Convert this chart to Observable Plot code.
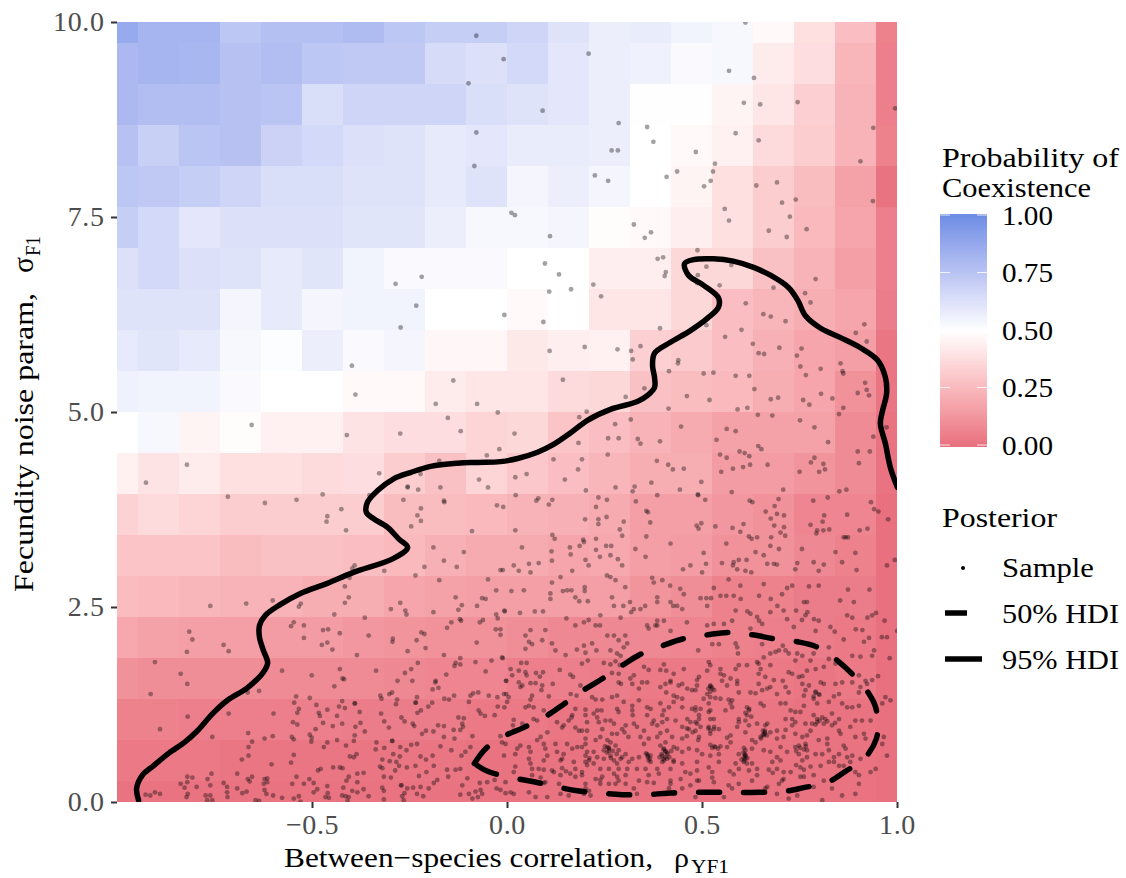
<!DOCTYPE html>
<html><head><meta charset="utf-8">
<script src="https://cdn.jsdelivr.net/npm/d3@7"></script>
<script src="https://cdn.jsdelivr.net/npm/@observablehq/plot@0.6"></script>
<style>html,body{margin:0;background:#fff}svg{display:block}text{font-family:"Liberation Serif",serif}
g[aria-label$="tick label"] text{letter-spacing:.6px}</style>
</head><body><div id="chart"></div>
<script>
const cellCols = 20;
const coexistProb = [
[.87,.82,.82,.74,.77,.77,.79,.74,.71,.71,.68,.62,.57,.58,.55,.53,.48,.39,.27,.06],
[.80,.82,.81,.76,.78,.74,.73,.73,.65,.63,.66,.60,.57,.56,.52,.53,.43,.38,.24,.05],
[.80,.78,.78,.76,.75,.64,.68,.68,.68,.64,.62,.60,.57,.505,.505,.46,.41,.33,.23,.05],
[.76,.70,.75,.76,.69,.66,.63,.62,.59,.60,.58,.58,.57,.50,.48,.45,.37,.32,.23,.06],
[.74,.73,.71,.68,.64,.64,.62,.62,.59,.62,.54,.57,.54,.50,.46,.39,.32,.26,.17,.01],
[.71,.66,.60,.63,.63,.63,.61,.61,.57,.53,.53,.54,.49,.48,.44,.39,.32,.25,.18,.05],
[.63,.66,.63,.62,.59,.61,.55,.52,.52,.52,.50,.50,.44,.44,.36,.36,.28,.23,.16,.05],
[.62,.62,.62,.54,.59,.54,.55,.55,.50,.50,.48,.50,.41,.41,.36,.27,.24,.21,.18,.04],
[.59,.61,.59,.53,.51,.57,.52,.54,.47,.47,.42,.44,.45,.33,.31,.27,.22,.18,.16,.02],
[.56,.55,.55,.52,.50,.50,.48,.48,.43,.41,.41,.37,.36,.28,.26,.25,.21,.18,.11,.02],
[.50,.53,.46,.49,.45,.45,.40,.38,.38,.35,.36,.29,.27,.23,.20,.17,.17,.17,.09,.01],
[.45,.40,.43,.39,.39,.37,.38,.32,.28,.35,.30,.27,.24,.21,.21,.15,.15,.12,.09,.01],
[.34,.37,.35,.32,.32,.32,.32,.26,.26,.25,.23,.22,.20,.16,.16,.13,.11,.07,.07,.00],
[.29,.29,.29,.26,.28,.28,.27,.25,.22,.20,.20,.18,.19,.16,.15,.11,.11,.08,.06,.00],
[.26,.25,.24,.23,.23,.21,.21,.18,.17,.16,.16,.16,.16,.12,.10,.06,.06,.04,.04,.00],
[.19,.17,.16,.16,.15,.15,.13,.12,.11,.11,.10,.08,.08,.08,.07,.06,.05,.04,.03,.00],
[.11,.10,.10,.10,.09,.09,.09,.08,.07,.07,.05,.05,.04,.03,.03,.03,.03,.02,.03,.00],
[.06,.06,.05,.05,.05,.05,.04,.04,.04,.03,.03,.02,.02,.02,.02,.02,.02,.01,.01,.00],
[.03,.03,.03,.02,.02,.02,.02,.02,.02,.01,.01,.01,.01,.01,.01,.01,.01,.01,.01,.00],
[.01,.01,.01,.01,.01,.01,.01,.01,.01,.01,.01,.01,.01,.01,.01,.01,.01,.01,.01,.00]
];
const hdi95Rho = [-.946,-.951,-.936,-.908,-.869,-.826,-.795,-.756,-.718,-.667,-.626,-.615,-.626,-.636,-.636,-.621,-.582,-.531,-.462,-.395,-.292,-.256,-.279,-.308,-.344,-.362,-.359,-.333,-.292,-.249,-.197,-.128,-.077,-.018,.026,.077,.118,.162,.205,.264,.333,.359,.377,.377,.372,.377,.418,.469,.513,.541,.541,.503,.464,.454,.477,.528,.579,.631,.674,.721,.744,.764,.803,.854,.905,.949,.969,.972,.962,.956,.969,.982,1.0];
const hdi95Sigma = [.03,.18,.35,.47,.63,.78,.92,1.14,1.31,1.47,1.67,1.79,1.95,2.12,2.27,2.40,2.54,2.68,2.81,2.95,3.13,3.27,3.38,3.53,3.64,3.72,3.85,4.00,4.15,4.23,4.31,4.35,4.36,4.37,4.41,4.49,4.59,4.74,4.90,5.04,5.14,5.22,5.32,5.45,5.60,5.76,5.90,6.05,6.21,6.35,6.47,6.63,6.76,6.91,6.96,6.97,6.94,6.86,6.76,6.60,6.44,6.24,6.08,5.96,5.83,5.67,5.45,5.24,5.03,4.86,4.60,4.29,4.04];
const hdi50Rho = [-.085,-.056,-.005,.041,.103,.144,.195,.244,.295,.341,.397,.451,.513,.567,.628,.682,.744,.795,.846,.887,.926,.944,.949,.946,.918,.867,.821,.759,.705,.644,.585,.528,.469,.41,.354,.295,.238,.179,.118,.064,.008,-.051,-.085];
const hdi50Sigma = [.50,.69,.86,.96,1.12,1.26,1.44,1.59,1.76,1.90,2.01,2.10,2.15,2.18,2.15,2.10,2.06,1.99,1.82,1.63,1.40,1.22,1.01,.82,.58,.40,.26,.19,.14,.13,.13,.13,.13,.12,.10,.10,.12,.15,.21,.27,.32,.40,.50];
const sampleUpper = [-.08,9.83,-.01,9.53,-.10,9.22,-.08,8.59,-.085,8.16,-.22,6.74,.208,9.60,.568,9.38,.632,9.29,.61,10,.606,8.97,.648,8.95,.744,8.98,.994,8.90,.09,8.87,.285,8.71,.358,8.66,.374,8.47,.585,8.58,.644,8.49,.938,8.65,.267,8.36,.283,8.36,.483,8.34,.905,8.22,.532,8.19,.527,8.09,.435,8.09,.224,8.04,.408,8.02,.258,7.97,.521,7.97,.504,7.90,.638,7.91,.691,7.95,.704,7.69,.739,7.73,.937,7.71,.557,7.61,.01,7.56,.019,7.53,.568,7.46,.724,7.51,.767,7.35,.67,7.33,.716,7.25,.324,7.41,.368,7.31,.352,7.24,.109,7.26,.487,7.08,.399,6.99,.385,6.97,.096,6.91,.51,6.87,.574,6.89,.406,6.80,.403,6.75,.488,6.76,.132,6.77,.79,6.71,-.287,6.65,-.234,6.37,-.274,6.09,-.008,6.25,-.399,5.60,-.39,5.23,-.139,5.41,-.184,5.11,-.078,5.11,-.025,5.00,-.153,4.93,-.656,4.84,-.12,4.76,-.412,4.71,-.275,4.73,-.021,4.53,-.053,4.45,-.175,4.38,-.822,4.33,-.329,4.22,-.223,4.21,-.927,4.10,-.073,4.14,-.05,4.04,-.256,4.05,-.256,4.04,-.229,4.01,-.172,4.04,-.474,3.95,-.354,3.94,-.717,3.92,-.622,3.84,-.541,3.88,-.267,3.88,-.163,3.87,-.162,3.85,-.426,3.76,-.222,3.77,-.231,3.68,-.027,3.81,-.011,3.79,-.462,3.67,-.464,3.60,-.222,3.61,-.247,3.54,-.414,3.49,-.091,3.48];
const sampleMiddle = [.22,6.64,.486,6.66,.544,6.63,.107,6.55,.163,6.58,.24,6.49,.682,6.60,.763,6.53,.777,6.41,.611,6.40,.092,6.16,.656,6.26,.675,6.23,.713,6.17,.915,6.13,.391,6.08,.51,6.12,.60,6.06,.893,6.02,.921,5.91,.558,5.97,.629,5.88,.697,5.83,.754,5.82,.108,5.79,.198,5.84,.282,5.81,.317,5.79,.341,5.85,.644,5.76,.658,5.75,.742,5.73,.321,5.68,.438,5.67,.437,5.63,.854,5.63,.751,5.59,.803,5.56,.414,5.53,.859,5.53,.861,5.50,.503,5.50,.528,5.51,.765,5.48,.585,5.47,.62,5.47,.142,5.42,.917,5.38,.351,5.31,.633,5.30,.921,5.29,.898,5.25,.927,5.22,.804,5.24,.46,5.21,.303,5.20,.694,5.19,.675,5.17,.833,5.18,.758,5.16,.774,5.10,.518,5.16,.413,5.05,.59,5.04,.615,5.06,.861,5.06,.85,4.98,.203,5.01,.184,4.94,.642,4.97,.679,4.96,.316,4.91,.75,4.90,.276,4.85,.445,4.82,.787,4.81,.562,4.79,.585,4.76,.018,4.73,.972,4.81,.938,4.69,.258,4.67,.285,4.67,.334,4.66,.341,4.60,.536,4.65,.391,4.63,.182,4.61,.822,4.62,.643,4.57,.651,4.53,.898,4.50,.929,4.50,.595,4.50,.608,4.48,.62,4.44,.545,4.46,.562,4.42,.257,4.46,.787,4.42,.118,4.40,.191,4.40,.383,4.38,.778,4.36,.81,4.34,.814,4.27,.799,4.24,.749,4.24,.901,4.35,.667,4.33,.622,4.33,.604,4.30,.578,4.28,.548,4.24,.412,4.33,.424,4.27,.452,4.28,.181,4.27,.147,4.14,.049,4.21,.02,4.17,.497,4.11,.369,4.10,.326,4.05,.321,3.99,.277,4.04,.442,4.01,.488,3.95,.489,3.94,.201,4.00,.707,4.01,.851,3.99,.869,4.01,.575,3.98,.021,3.94,.384,3.94,.233,3.91,.255,3.88,.079,3.90,.074,3.87,.115,3.88,.106,3.82,.329,3.86,.507,3.88,.695,3.89,.621,3.87,.628,3.85,.784,3.87,.821,3.91,.932,3.85,.94,3.76,.951,3.73,.227,3.79,.685,3.80,.662,3.73,.691,3.70,.709,3.68,.675,3.64,.356,3.74,.36,3.72,.254,3.66,.233,3.63,.233,3.57,.199,3.63,.871,3.69,.812,3.68,.808,3.60,.366,3.59,.298,3.60,.976,3.63,.605,3.57,.577,3.52,.597,3.47,.485,3.55,.497,3.58,.49,3.51,.533,3.54,.684,3.55,.709,3.53,.70,3.46,.712,3.42,.777,3.56,.794,3.49,.792,3.45,.81,3.49,.825,3.50,.903,3.49,.923,3.51,.862,3.40,.873,3.40,.288,3.50,.294,3.42,.02,3.49,.115,3.43,.356,3.41,.619,3.41,.64,3.40,.626,3.38,.676,3.40,.194,3.37,.227,3.38,.121,3.38];
const sampleLeft = [-.19,3.27,-.112,3.21,-.163,3.10,-.13,3.02,-.213,3.02,-.012,2.98,-.316,2.97,-.392,3.04,-.398,3.00,-.236,2.91,-.405,2.88,-.175,2.85,-.05,2.86,-.417,2.77,-.029,2.72,-.407,2.63,-.417,2.56,-.133,2.63,-.065,2.62,-.056,2.61,-.602,2.59,-.67,2.55,-.762,2.52,-.53,2.55,-.535,2.51,-.275,2.56,-.262,2.46,-.259,2.41,-.299,2.48,-.117,2.53,-.126,2.47,-.078,2.52,-.19,2.44,-.029,2.41,-.025,2.36,-.007,2.45,-.444,2.41,-.366,2.37,-.122,2.35,-.119,2.33,-.144,2.31,-.063,2.34,-.071,2.31,-.548,2.31,-.555,2.26,-.522,2.27,-.473,2.21,-.46,2.22,-.43,2.17,-.155,2.24,-.03,2.22,-.018,2.22,-.018,2.15,-.816,2.19,-.808,2.09,-.356,2.14,-.221,2.18,-.213,2.16,-.522,2.11,-.294,2.10,-.295,2.06,-.233,2.08,-.462,2.05,-.476,2.02,-.079,2.05,-.728,2.02,-.715,1.94,-.449,1.96,-.21,1.98,-.822,1.93,-.256,1.94,-.386,1.89,-.163,1.89,-.121,1.85,-.133,1.79,-.121,1.77,-.136,1.75,-.082,1.80,-.904,1.80,-.23,1.79,-.041,1.82,-.012,1.85,-.578,1.69,-.247,1.71,-.263,1.66,-.282,1.56,-.244,1.56,-.337,1.69,-.43,1.71,-.423,1.59,-.419,1.58,-.502,1.63,-.838,1.65,-.157,1.64,-.821,1.52,-.056,1.68,-.004,1.56,-.184,1.56,-.185,1.54,-.444,1.49,-.177,1.47,-.192,1.45,-.666,1.41,-.637,1.43,-.915,1.39,-.296,1.41,-.303,1.39,-.326,1.37,-.323,1.33,-.542,1.36,-.507,1.34,-.424,1.30,-.432,1.23,-.392,1.27,-.391,1.27,-.283,1.32,-.286,1.26,-.236,1.28,-.235,1.28,-.232,1.35,-.162,1.33,-.15,1.32,-.137,1.37,-.095,1.37,-.088,1.40,-.075,1.41,-.099,1.29,-.026,1.35,-.025,1.23,-.048,1.37,-.193,1.28,-.203,1.23,-.547,1.28,-.49,1.25,-.535,1.20,-.539,1.15,-.462,1.19,-.484,1.15,-.481,1.11,-.417,1.21,-.437,1.11,-.379,1.16,-.324,1.14,-.6,1.14,-.82,1.10,-.715,1.14,-.222,1.18,-.231,1.15,-.272,1.09,-.264,1.04,-.316,1.04,-.304,.96,-.243,1.01,-.239,.98,-.074,1.18,-.069,1.14,-.058,1.11,-.033,1.12,-.112,1.08,-.126,1.09,-.116,1.01,-.138,.93,-.121,.93,-.114,.97,-.178,.99,-.163,.98,-.19,.91,-.55,1.03,-.539,1.00,-.473,1.02,-.448,.98,-.424,1.01,-.377,1.02,-.492,.94,-.366,.91,-.39,.97,-.392,.86,-.219,.88,-.209,.92,-.891,.94,-.665,.89,-.757,.84,-.507,.87,-.502,.83,-.503,.78,-.623,.82,-.602,.85,-.553,.84,-.548,.81,-.437,.80,-.394,.79,-.163,.84,-.136,.82,-.09,.85,-.018,.85,-.295,.79,-.296,.79,-.336,.77,-.655,.78,-.664,.71,-.462,.77,-.471,.71,-.414,.73,-.247,.74,-.232,.75,-.275,.71,-.316,.70,-.172,.72,-.144,.67,-.095,.71,-.108,.65,-.118,.60,-.338,.68,-.293,.62,-.259,.67,-.276,.59,-.302,.53,-.285,.52,-.387,.62,-.394,.58,-.404,.59,-.192,.60,-.321,.55,-.223,.59,-.209,.55,-.681,.55,-.664,.60,-.555,.51,-.548,.61,-.605,.49,-.447,.45,-.43,.45,-.423,.44,-.486,.41,-.479,.43,-.327,.46,-.321,.44,-.258,.45,-.236,.47,-.278,.47,-.288,.41,-.189,.47,-.155,.42,-.133,.42,-.121,.43,-.693,.37,-.759,.37,-.541,.33,-.508,.30,-.369,.38,-.385,.37,-.407,.33,-.413,.28,-.317,.33,-.299,.32,-.208,.39,-.227,.34,-.152,.33,-.18,.29,-.189,.25,-.103,.31,-.071,.25,-.052,.26,-.033,.29,-.821,.33,-.808,.32,-.821,.26,-.828,.19,-.838,.24,-.769,.30,-.728,.25,-.719,.20,-.719,.13,-.718,.07,-.797,.20,-.762,.22,-.82,.11,-.823,.07,-.928,.10,-.916,.09,-.904,.13,-.891,.11,-.774,.09,-.762,.09,-.77,.03,-.757,.03,-.693,.18,-.68,.12,-.669,.14,-.666,.30,-.655,.33,-.661,.27,-.646,.03,-.637,.02,-.623,.30,-.616,.31,-.625,.24,-.616,.26,-.623,.16,-.618,.11,-.601,.09,-.578,.06,-.548,.05,-.535,.08,-.531,.01,-.522,.24,-.497,.25,-.552,.24,-.488,.17,-.497,.13,-.462,.21,-.461,.12,-.467,.07,-.458,.06,-.415,.08,-.407,.07,-.41,.02,-.424,.09,-.421,.19,-.385,.26,-.369,.17,-.385,.13,-.398,.15,-.356,.08,-.317,.15,-.321,.19,-.317,.04,-.272,.22,-.273,.22,-.257,.18,-.264,.12,-.27,.08,-.266,.03,-.242,.19,-.223,.20,-.202,.18,-.232,.11,-.216,.08,-.116,.22,-.099,.11,-.121,.10,-.082,.14,-.069,.16,-.076,.07,-.09,.05,-.065,.11,-.028,.18,-.018,.16,-.005,.12];
const sampleBand = [.037,3.27,.113,3.22,.16,3.27,.185,3.29,.196,3.34,.227,3.24,.253,3.29,.266,3.29,.328,3.25,.418,3.32,.561,3.32,.674,3.29,.636,3.21,.657,3.17,.696,3.25,.755,3.25,.867,3.40,.892,3.20,.841,3.21,.973,3.04,.993,3.11,.114,3.10,.162,3.18,.2,3.11,.237,3.15,.264,3.17,.283,3.12,.294,3.04,.055,3.06,.08,3.07,.016,3.04,.029,2.97,.059,2.95,-.018,2.98,.208,3.04,.166,2.97,.354,3.15,.503,3.20,.55,3.07,.58,3.08,.593,3.11,.613,3.11,.578,3.04,.589,2.99,.61,2.97,.625,2.95,.683,3.06,.666,3.06,.691,3.05,.743,3.07,.785,3.08,.811,3.05,.738,2.99,.798,2.97,.858,3.08,.895,2.98,.45,2.99,.469,3.04,.499,2.95,.509,3.06,.136,2.89,.114,2.82,.255,2.91,.264,2.89,.277,2.85,.371,2.88,.397,2.85,.417,2.78,.375,2.82,.443,2.74,.452,2.67,.657,2.80,.567,2.86,.529,2.75,.597,2.78,.73,2.78,.717,2.75,.704,2.67,.773,2.77,.798,2.78,.873,2.73,.928,2.73,.042,2.72,.01,2.71,.142,2.71,.153,2.72,.164,2.72,.198,2.76,.198,2.71,.302,2.76,.268,2.63,.11,2.68,.11,2.61,.174,2.63,.184,2.58,.206,2.58,.273,2.52,.297,2.52,.314,2.57,.384,2.63,.384,2.57,.418,2.57,.495,2.62,.51,2.62,.522,2.62,.546,2.65,.561,2.65,.58,2.65,.598,2.61,.645,2.65,.675,2.61,.76,2.57,.768,2.57,.853,2.59,.888,2.57,.353,2.52,.341,2.48,.324,2.48,.317,2.44,.425,2.52,.435,2.52,.448,2.48,.512,2.52,.585,2.46,.615,2.45,.623,2.42,.64,2.38,.645,2.33,.674,2.44,.708,2.46,.692,2.52,.74,2.46,.764,2.40,.755,2.34,.769,2.44,.786,2.35,.798,2.33,.871,2.40,.884,2.37,.923,2.37,.935,2.40,.945,2.43,-.008,2.46,.032,2.43,.091,2.45,.07,2.45,.151,2.36,.196,2.31,.208,2.34,.238,2.40,.226,2.27,.237,2.27,.29,2.37,.384,2.33,.401,2.33,.384,2.27,.358,2.27,.362,2.23,.379,2.27,.418,2.20,.46,2.31,.512,2.27,.529,2.29,.555,2.29,.576,2.33,.623,2.23,.653,2.29,.717,2.35,.734,2.25,.79,2.20,.828,2.25,.839,2.19,.893,2.22,.91,2.21,.967,2.33,.999,2.20,.059,2.21,.046,2.14,.055,2.06,.063,2.03,.089,2.08,.097,2.21,.174,2.27,.256,2.14,.217,2.04,.196,2.01,.178,1.96,.2,1.92,.114,2.04,.046,1.97,.123,1.95,.149,1.89,.273,2.14,.302,2.14,.285,2.08,.307,2.04,.298,1.99,.228,1.95,.264,1.95,.281,1.91,.29,1.88,.862,2.09,.927,2.11,.973,2.12,.96,2.12,.914,2.06,.824,1.99,.94,1.95,.98,1.85];
const sampleCoreLeft = [.035,1.79,.049,1.79,-.014,1.86,.008,1.71,.029,1.69,.046,1.67,.012,1.63,.049,1.63,.073,1.66,.091,1.67,.083,1.615,.134,1.70,.161,1.64,.168,1.61,.206,1.82,.191,1.78,.247,1.79,.264,1.77,.277,1.81,.288,1.76,.268,1.66,.285,1.65,.324,1.63,.35,1.74,.362,1.70,.401,1.77,.407,1.69,.392,1.70,.426,1.65,.452,1.71,.491,1.61,.418,1.56,.315,1.59,
-.003,1.56,.029,1.54,.033,1.48,.038,1.50,.059,1.53,.072,1.53,.089,1.50,.087,1.44,.116,1.52,.106,1.36,.187,1.50,.162,1.39,.177,1.37,.285,1.54,.291,1.52,.32,1.52,.345,1.54,.337,1.46,.358,1.54,.392,1.48,.405,1.52,.407,1.41,.418,1.54,.439,1.50,.448,1.52,.461,1.46,.473,1.44,.486,1.50,.426,1.37,-.009,1.39,-.003,1.39,.003,1.35,.063,1.37,.059,1.32,.243,1.32,.226,1.32,.217,1.35,.268,1.35,.298,1.29,.337,1.31,.281,1.37,.448,1.33,.435,1.35,
-.001,1.29,-.008,1.22,.046,1.22,.055,1.24,.067,1.22,.093,1.18,.166,1.12,.174,1.20,.2,1.19,.2,1.12,.23,1.18,.241,1.18,.221,1.14,.23,1.09,.281,1.20,.285,1.16,.32,1.24,.32,1.18,.321,1.12,.358,1.22,.367,1.20,.358,1.12,.392,1.27,.401,1.18,.397,1.12,.414,1.22,.426,1.29,.448,1.22,.461,1.07,.473,1.20,.482,1.18,.491,1.12,.375,1.05,.067,1.07,.016,1.06,.076,1.05,.127,1.03,.157,1.05,
.014,.99,.038,1.01,.144,.99,.14,.96,.164,1.09,.204,1.03,.183,.92,.191,.92,.174,.96,.204,.92,.234,1.03,.251,1.05,.264,1.05,.243,.94,.273,1.01,.303,.99,.294,.94,.268,.88,.324,1.01,.332,.97,.35,.92,.371,1.01,.384,.99,.397,1.03,.409,1.07,.431,1.05,.448,.97,.465,.94,.469,1.03,.486,1.01,.392,.89,.409,.92,.422,.84,.102,.90,.085,.84,.076,.80,.2,.82,.226,.80,.256,.80,.238,.84,.281,.88,.341,.84,.362,.82,.384,.84,.482,.92,.448,.82,.016,.92,-.014,.77,
-.005,.75,.033,.73,.025,.69,.055,.71,.059,.65,.093,.75,.102,.60,.097,.69,.127,.65,.123,.75,.144,.62,.153,.75,.166,.69,.179,.71,.191,.71,.2,.75,.204,.65,.14,.56,.221,.65,.23,.58,.247,.67,.256,.71,.264,.77,.277,.73,.26,.69,.264,.60,.247,.56,.285,.67,.303,.62,.294,.58,.32,.56,.337,.58,.35,.75,.358,.62,.367,.60,.362,.54,.392,.73,.405,.77,.401,.69,.405,.65,.397,.60,.409,.56,.426,.71,.435,.69,.426,.54,.448,.65,.465,.69,.486,.67,-.009,.60,.02,.62,.055,.56,.273,.54,.29,.56,.405,.66,.41,.62,.36,.58,.26,.66,.405,.58,
.02,.46,.016,.39,.059,.50,.063,.43,.093,.54,.08,.43,.093,.42,.114,.41,.119,.39,.136,.54,.17,.52,.174,.43,.2,.52,.209,.54,.204,.48,.191,.39,.191,.35,.221,.50,.238,.43,.243,.33,.26,.43,.281,.50,.285,.43,.273,.37,.311,.52,.307,.43,.303,.35,.332,.43,.354,.43,.367,.52,.384,.43,.401,.54,.397,.52,.418,.43,.426,.52,.448,.50,.456,.39,.486,.52,.063,.35,.085,.32,.136,.35,.161,.37,.174,.33,.226,.30,.281,.33,.285,.28,.337,.28,.362,.35,.388,.37,.418,.28,.444,.30,.469,.37,
-.005,.26,.093,.25,.097,.26,.016,.11,.008,.13,.072,.07,.055,.13,.132,.24,.2,.24,.2,.18,.209,.15,.213,.09,.238,.24,.238,.29,.26,.24,.277,.24,.303,.24,.324,.18,.332,.11,.358,.26,.375,.25,.418,.24,.414,.18,.448,.18,.469,.22,.486,.28,.196,.11,.136,.11,.426,.11,.482,.07,.102,.07,.157,.09];
const sampleCoreRight = [.489,1.95,.525,2.03,.542,2.03,.585,2.04,.589,1.99,.591,1.91,.653,2.03,.657,1.86,.674,1.91,.687,1.93,.696,1.95,.706,2.01,.713,1.95,.721,1.91,.743,1.91,.756,1.88,.785,1.91,.824,1.84,.884,1.88,.905,1.87,.935,1.88,
.516,1.80,.52,1.76,.486,1.57,.512,1.69,.546,1.71,.546,1.65,.555,1.63,.572,1.59,.593,1.76,.585,1.71,.614,1.76,.589,1.56,.64,1.80,.644,1.78,.649,1.71,.674,1.76,.644,1.65,.661,1.61,.683,1.57,.721,1.67,.73,1.65,.747,1.61,.756,1.62,.768,1.69,.777,1.82,.811,1.74,.841,1.78,.79,1.71,.901,1.63,.918,1.56,.935,1.57,.95,1.62,.55,1.56,.738,1.82,
.52,1.50,.525,1.46,.523,1.48,.482,1.44,.512,1.39,.52,1.35,.503,1.33,.533,1.34,.546,1.33,.567,1.32,.576,1.31,.563,1.50,.589,1.52,.593,1.41,.623,1.41,.636,1.40,.644,1.52,.653,1.44,.666,1.46,.674,1.48,.691,1.39,.706,1.56,.713,1.48,.721,1.41,.756,1.52,.764,1.44,.773,1.50,.76,1.37,.79,1.41,.798,1.39,.803,1.54,.811,1.52,.841,1.52,.858,1.54,.837,1.36,.85,1.39,.884,1.54,.905,1.48,.901,1.41,.922,1.52,.969,1.35,.982,1.31,.785,1.33,
.516,1.27,.52,1.18,.482,1.22,.495,1.20,.516,1.16,.572,1.27,.576,1.22,.559,1.18,.593,1.07,.614,1.22,.619,1.18,.649,1.27,.657,1.24,.70,1.27,.713,1.27,.76,1.24,.794,1.27,.824,1.29,.832,1.14,.858,1.27,.884,1.22,.85,1.07,.871,1.22,.901,1.24,.738,1.16,.751,1.16,.726,1.18,.713,1.07,.73,1.07,.807,1.09,.785,1.12,.794,1.07,.815,1.07,.52,1.07,.529,1.07,.614,1.12,.61,1.05,.666,1.01,.909,1.05,.931,1.05,.961,1.27,
.491,1.07,.482,1.03,.495,.97,.516,.97,.529,.94,.542,.94,.52,.88,.593,1.03,.589,.97,.572,.86,.563,.83,.619,.99,.61,.90,.64,1.01,.661,.99,.66,.92,.657,.86,.649,.84,.674,.90,.691,.92,.713,.93,.708,.84,.73,.99,.738,1.03,.764,1.01,.781,1.01,.794,1.03,.811,1.01,.832,.99,.85,.92,.854,.88,.892,1.05,.879,.97,.892,.84,.914,.88,.738,.88,.756,.84,.768,.86,.798,.80,.82,.82,.918,.82,.965,.84,.491,.84,.627,.80,.691,.82,.777,.92,.66,.88,.655,.87,
.489,.80,.52,.74,.533,.71,.546,.72,.499,.62,.572,.77,.563,.71,.606,.70,.61,.67,.593,.62,.636,.77,.627,.69,.657,.67,.674,.65,.691,.58,.70,.71,.717,.65,.738,.71,.747,.73,.764,.75,.768,.67,.768,.58,.747,.62,.756,.54,.79,.62,.82,.75,.824,.67,.862,.73,.867,.69,.871,.58,.884,.60,.807,.62,.606,.58,.61,.56,.542,.62,.52,.60,.70,.54,.905,.56,.961,.75,.973,.60,.837,.58,.85,.62,.609,.62,.61,.60,.607,.54,
.486,.41,.525,.39,.516,.45,.542,.52,.585,.50,.606,.52,.614,.50,.627,.50,.593,.43,.619,.41,.64,.43,.64,.35,.679,.52,.691,.43,.708,.39,.726,.39,.751,.45,.777,.46,.803,.47,.824,.52,.837,.52,.85,.47,.862,.47,.879,.52,.892,.39,.901,.35,.944,.43,.525,.32,.708,.30,.751,.33,.76,.33,.785,.35,.811,.28,.931,.39,
.567,.22,.576,.18,.491,.28,.529,.26,.593,.24,.627,.28,.666,.20,.661,.18,.696,.24,.704,.28,.785,.20,.832,.18,.901,.24,.858,.09,.892,.11,.555,.07,.691,.11,.721,.05,.743,.09,.807,.03];
const sampleDarkSpots = [.40,.68,.41,.64,.395,.62,.415,.58,.40,.56,.42,.66,.39,.58,.36,.60,.365,.56,.355,.63,.26,.70,.27,.66,.255,.64,.25,.72,.28,.62,.265,.57,.52,1.49,.515,1.46,.53,1.44,.52,1.42,.61,.60,.605,.64,.615,.57,.60,.55,.66,.90,.665,.86,.655,.92,.65,.82,.53,.72,.54,.69,.525,.70,.75,.70,.76,.68,.74,.66,.765,.72,.79,1.42,.80,1.38,.785,1.36,.515,.95,.53,.97,.52,.92,.62,1.20,.61,1.15,.625,1.10,.80,1.05,.82,1.04,.79,1.00,.84,1.02,.46,.95,.475,.90,.46,.85,.30,.90,.31,.84,.20,.60,.21,.57,.14,.44,.15,.40,.57,.40,.58,.36,.67,.42,.68,.38,.74,.48,.76,.42];

const cellStep = 2 / (cellCols - 1), rowStep = 10 / (cellCols - 1);
const cells = coexistProb.flatMap((row, i) => row.map((p, j) => {
  const x = -1 + j * cellStep, y = 10 - i * rowStep;
  return {x1: x - cellStep / 2, x2: x + cellStep / 2, y1: y - rowStep / 2, y2: y + rowStep / 2, p};
}));
const flat = [...sampleUpper, ...sampleMiddle, ...sampleLeft, ...sampleBand, ...sampleCoreLeft, ...sampleCoreRight, ...sampleDarkSpots];
const samples = d3.range(0, flat.length, 2).map(i => ({x: flat[i], y: flat[i + 1]}));
const hdi95 = hdi95Rho.map((x, i) => ({x, y: hdi95Sigma[i]}));
const hdi50 = hdi50Rho.map((x, i) => ({x, y: hdi50Sigma[i]}));

const plot = Plot.plot({
  width: 1126, height: 878,
  marginLeft: 117, marginRight: 229, marginTop: 22, marginBottom: 76,
  style: {background: "#fff", fontFamily: '"Liberation Serif", serif'},
  x: {domain: [-1, 1], label: null},
  y: {domain: [0, 10], label: null},
  color: {type: "linear", domain: [0, .5, 1], range: ["#e8707f", "#ffffff", "#6e8ee6"], interpolate: "lab"},
  marks: [
    Plot.rect(cells, {x1: "x1", x2: "x2", y1: "y1", y2: "y2", fill: "p", inset: 0, clip: true, shapeRendering: "crispEdges"}),
    Plot.dot(samples, {x: "x", y: "y", r: 2.4, fill: "#000", fillOpacity: .36, stroke: "none", clip: true}),
    Plot.line(hdi50, {x: "x", y: "y", curve: "catmull-rom", stroke: "#000", strokeWidth: 5.5, strokeDasharray: "21 24", strokeLinejoin: "miter", clip: true}),
    Plot.line(hdi95, {x: "x", y: "y", curve: "catmull-rom", stroke: "#000", strokeWidth: 5.5, clip: true}),
    Plot.axisX({ticks: [-.5, 0, .5, 1], tickFormat: d3.format(".1f"), tickSize: 6, tickPadding: 6, fontSize: 28, fill: "#4d4d4d", stroke: "#333", strokeWidth: 2, label: null}),
    Plot.axisY({ticks: [0, 2.5, 5, 7.5, 10], tickFormat: d3.format(".1f"), tickSize: 6, tickPadding: 7, fontSize: 28, fill: "#4d4d4d", stroke: "#333", strokeWidth: 2, label: null})
  ]
});
document.getElementById("chart").appendChild(plot);

const svg = d3.select(plot);
const color = plot.scale("color");
const fontStack = '"Liberation Serif", serif';
function addText(str, {x, y, size = 28, width, rotate = false}) {
  const t = svg.append("text")
    .attr("transform", rotate ? `translate(${x},${y}) rotate(-90)` : `translate(${x},${y})`)
    .attr("font-size", size).attr("text-anchor", "start").attr("fill", "#000")
    .style("font-family", fontStack).text(str);
  if (width) t.attr("textLength", width).attr("lengthAdjust", "spacingAndGlyphs");
  return t;
}
// Axis titles
addText("Between\u2212species correlation,", {x: 284, y: 867, size: 28, width: 369});
addText("\u03C1", {x: 674, y: 867, size: 28, width: 15});
addText("YF1", {x: 691, y: 873, size: 19, width: 38});
addText("Fecundity noise param,", {x: 33, y: 592, size: 28, width: 299, rotate: true});
addText("\u03C3", {x: 33, y: 273, size: 30, width: 16, rotate: true});
addText("F1", {x: 40, y: 256, size: 21, width: 20, rotate: true});

// Colour legend
addText("Probability of", {x: 942, y: 167, width: 177});
addText("Coexistence", {x: 942, y: 197, width: 149});
const barTop = 215, barBottom = 445;
const legendStops = d3.range(0, 1.0001, 1 / 115);
svg.append("g").selectAll("rect").data(legendStops).join("rect")
  .attr("x", 940).attr("width", 47)
  .attr("y", d => barBottom - d * (barBottom - barTop) - 1).attr("height", 3)
  .attr("fill", d => color.apply(d));
for (const t of [0, .25, .5, .75, 1]) {
  const y = barBottom - t * (barBottom - barTop);
  svg.append("path").attr("d", `M940,${y}h10M977,${y}h10`).attr("stroke", "#fff").attr("stroke-opacity", .8).attr("stroke-width", 1);
  addText(t.toFixed(2), {x: 1002, y: y + 9.5, width: 51});
}

// Posterior legend
addText("Posterior", {x: 942, y: 527, width: 115});
svg.append("circle").attr("cx", 963).attr("cy", 568).attr("r", 2).attr("fill", "#000");
addText("Sample", {x: 1002, y: 577, width: 92});
svg.append("path").attr("d", "M945,613h22").attr("stroke", "#000").attr("stroke-width", 5.5);
addText("50% HDI", {x: 1002, y: 623, width: 117});
svg.append("path").attr("d", "M945,659h37").attr("stroke", "#000").attr("stroke-width", 5.5);
addText("95% HDI", {x: 1002, y: 669, width: 117});
</script></body></html>
